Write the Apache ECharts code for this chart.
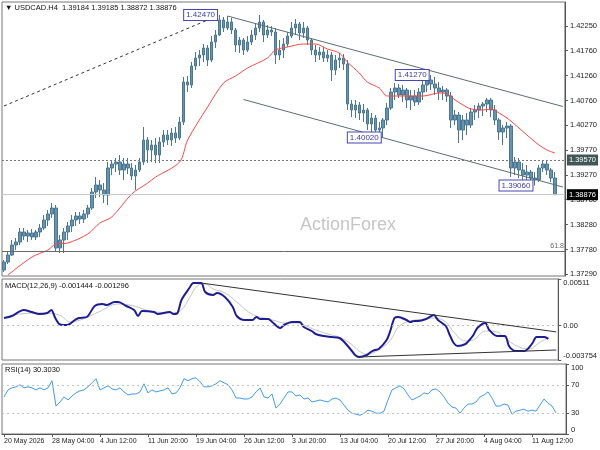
<!DOCTYPE html>
<html>
<head>
<meta charset="utf-8">
<script src="https://cdn.jsdelivr.net/npm/echarts@6/dist/echarts.min.js"></script>
<style>
  html, body { margin: 0; padding: 0; background: #fff; }
  #chart { width: 600px; height: 450px; }
</style>
</head>
<body>
<div id="chart"></div>
<script>
// 每根K线约等于原图2~3根H4
const dateLabels = ['20 May 2026', '28 May 04:00', '4 Jun 12:00', '11 Jun 20:00', '19 Jun 04:00', '26 Jun 12:00',
  '3 Jul 20:00', '13 Jul 04:00', '20 Jul 12:00', '27 Jul 20:00', '4 Aug 04:00', '11 Aug 12:00'];
const LABEL_STEP = 12;
const SLOT_COUNT = 141; // 最后两格留空

// [open, close, low, high]
const ohlc = [
  [1.3737,1.3753,1.3733,1.3757],[1.3753,1.3767,1.3749,1.3773],[1.3767,1.3787,1.3765,1.3797],[1.3787,1.3793,1.3777,1.3801],
  [1.3793,1.3813,1.3787,1.3821],[1.3813,1.3805,1.3797,1.3821],[1.3805,1.3811,1.3793,1.3817],[1.3811,1.3803,1.3797,1.3819],
  [1.3803,1.3813,1.3797,1.3817],[1.3813,1.3821,1.3803,1.3829],[1.3821,1.3837,1.3817,1.3847],[1.3837,1.3849,1.3825,1.3857],
  [1.3849,1.3861,1.3841,1.3871],[1.3861,1.3781,1.3773,1.3867],[1.3781,1.3797,1.3771,1.3807],[1.3797,1.3813,1.3771,1.3821],
  [1.3813,1.3825,1.3797,1.3833],[1.3825,1.3837,1.3813,1.3847],[1.3837,1.3845,1.3825,1.3853],[1.3845,1.3839,1.3829,1.3853],
  [1.3839,1.3849,1.3831,1.3857],[1.3849,1.3861,1.3841,1.3867],[1.3861,1.3893,1.3857,1.3901],[1.3893,1.3907,1.3881,1.3923],
  [1.3907,1.3897,1.3883,1.3917],[1.3897,1.3887,1.3871,1.3911],[1.3887,1.3941,1.3867,1.3953],[1.3941,1.3949,1.3927,1.3957],
  [1.3949,1.3953,1.3933,1.3961],[1.3953,1.3937,1.3927,1.3967],[1.3937,1.3949,1.3917,1.3961],[1.3949,1.3941,1.3929,1.3961],
  [1.3941,1.3925,1.3917,1.3951],[1.3925,1.3937,1.3897,1.3947],[1.3937,1.3953,1.3933,1.3961],[1.3953,1.3997,1.3947,1.4023],
  [1.3997,1.3977,1.3951,1.4003],[1.3977,1.3987,1.3953,1.3997],[1.3987,1.3967,1.3951,1.4001],[1.3967,1.3993,1.3951,1.4003],
  [1.3993,1.4007,1.3983,1.4017],[1.4007,1.3997,1.3987,1.4017],[1.3997,1.4011,1.3985,1.4021],[1.4011,1.4001,1.3991,1.4023],
  [1.4001,1.4033,1.3997,1.4043],[1.4033,1.4113,1.4027,1.4123],[1.4113,1.4107,1.4093,1.4125],[1.4107,1.4145,1.4101,1.4153],
  [1.4145,1.4161,1.4137,1.4173],[1.4161,1.4167,1.4145,1.4177],[1.4167,1.4181,1.4153,1.4189],[1.4181,1.4157,1.4145,1.4187],
  [1.4157,1.4193,1.4153,1.4205],[1.4193,1.4207,1.4181,1.4217],[1.4207,1.4237,1.4205,1.4247],[1.4237,1.4221,1.4213,1.4243],
  [1.4221,1.4233,1.4217,1.4245],[1.4233,1.4217,1.4209,1.4241],[1.4217,1.4187,1.4173,1.4221],[1.4187,1.4197,1.4171,1.4203],
  [1.4197,1.4177,1.4167,1.4201],[1.4177,1.4193,1.4173,1.4205],[1.4193,1.4207,1.4187,1.4217],[1.4207,1.4221,1.4197,1.4229],
  [1.4221,1.4233,1.4213,1.4247],[1.4233,1.4207,1.4193,1.4237],[1.4207,1.4217,1.4201,1.4227],[1.4217,1.4213,1.4205,1.4225],
  [1.4213,1.4167,1.4149,1.4221],[1.4167,1.4177,1.4157,1.4197],[1.4177,1.4189,1.4161,1.4201],[1.4189,1.4205,1.4183,1.4213],
  [1.4205,1.4221,1.4201,1.4233],[1.4221,1.4229,1.4207,1.4239],[1.4229,1.4211,1.4197,1.4233],[1.4211,1.4221,1.4201,1.4233],
  [1.4221,1.4197,1.4187,1.4225],[1.4197,1.4177,1.4167,1.4201],[1.4177,1.4167,1.4153,1.4187],[1.4167,1.4173,1.4157,1.4183],
  [1.4173,1.4161,1.4153,1.4183],[1.4161,1.4167,1.4153,1.4177],[1.4167,1.4137,1.4115,1.4173],[1.4137,1.4157,1.4127,1.4167],
  [1.4157,1.4161,1.4141,1.4171],[1.4161,1.4149,1.4137,1.4169],[1.4149,1.4069,1.4057,1.4157],[1.4069,1.4057,1.4043,1.4077],
  [1.4057,1.4067,1.4041,1.4077],[1.4067,1.4051,1.4037,1.4073],[1.4051,1.4057,1.4033,1.4069],[1.4057,1.4029,1.4017,1.4061],
  [1.4029,1.4041,1.4011,1.4051],[1.4041,1.4017,1.4007,1.4047],[1.4017,1.4021,1.4005,1.4033],[1.4021,1.4037,1.4002,1.4041],
  [1.4037,1.4061,1.4027,1.4071],[1.4061,1.4093,1.4057,1.4101],[1.4093,1.4101,1.4077,1.4111],[1.4101,1.4087,1.4081,1.4109],
  [1.4087,1.4097,1.4073,1.4107],[1.4097,1.4077,1.4061,1.4101],[1.4077,1.4085,1.4057,1.4097],[1.4085,1.4073,1.4065,1.4097],
  [1.4073,1.4093,1.4067,1.4101],[1.4093,1.4107,1.4077,1.4117],[1.4107,1.4117,1.4093,1.4125],[1.4117,1.4109,1.4097,1.4127],
  [1.4109,1.4101,1.4087,1.4123],[1.4101,1.4093,1.4077,1.4113],[1.4093,1.4097,1.4077,1.4105],[1.4097,1.4085,1.4073,1.4101],
  [1.4085,1.4037,1.4021,1.4093],[1.4037,1.4047,1.4027,1.4057],[1.4047,1.4017,1.3991,1.4053],[1.4017,1.4037,1.3997,1.4047],
  [1.4037,1.4027,1.4007,1.4051],[1.4027,1.4053,1.4021,1.4061],[1.4053,1.4057,1.4037,1.4067],[1.4057,1.4065,1.4041,1.4071],
  [1.4065,1.4069,1.4045,1.4073],[1.4069,1.4077,1.4053,1.4081],[1.4077,1.4057,1.4043,1.4081],[1.4057,1.4037,1.4027,1.4067],
  [1.4037,1.4013,1.3997,1.4041],[1.4013,1.4021,1.3987,1.4027],[1.4021,1.4025,1.4001,1.4033],[1.4025,1.3941,1.3923,1.4029],
  [1.3941,1.3953,1.3927,1.3963],[1.3953,1.3937,1.3921,1.3961],[1.3937,1.3927,1.3917,1.3951],[1.3927,1.3933,1.3917,1.3947],
  [1.3933,1.3921,1.3913,1.3937],[1.3921,1.3917,1.3906,1.3933],[1.3917,1.3941,1.3913,1.3947],[1.3941,1.3949,1.3933,1.3957],
  [1.3949,1.3937,1.3927,1.3957],[1.3937,1.3921,1.3913,1.3941],[1.3921,1.38876,1.38872,1.3933]
];

// 红色均线 [bar, value]
const maLine = [
  [1,1.3727],[7,1.3763],[11,1.3777],[13,1.3789],[16,1.3791],[21,1.3809],[24,1.3831],[27,1.3843],[32,1.3889],
  [36,1.3911],[38,1.3923],[44,1.3953],[46,1.3997],[51,1.4063],[55,1.4111],[58,1.4125],[61,1.4141],[66,1.4161],
  [68,1.4177],[71,1.4183],[75,1.4189],[78,1.4189],[81,1.4179],[84,1.4171],[86,1.4153],[89,1.4131],[91,1.4113],
  [94,1.4101],[96,1.4085],[100,1.4085],[105,1.4085],[109,1.4091],[111,1.4089],[113,1.4077],[115,1.4067],
  [117,1.4059],[120,1.4057],[122,1.4059],[124,1.4051],[126,1.4041],[129,1.4021],[131,1.4007],[134,1.3987],
  [136,1.3977],[138,1.3971]
];

const macdLine = [
  [0,0.000842],[2,0.001061],[5,0.001718],[7,0.001499],[9,0.00128],[11,0.001389],[12,0.001718],[13,0.000842],
  [14,0.000186],[15,0.000077],[16,0.000077],[18,0.000624],[19,0.000842],[21,0.000952],[23,0.002155],[25,0.002374],
  [26,0.002265],[28,0.002593],[29,0.002593],[31,0.002155],[33,0.001718],[34,0.001061],[35,0.001608],[38,0.001499],
  [39,0.00128],[42,0.001499],[43,0.00128],[44,0.001389],[45,0.002812],[47,0.004124],[48,0.004671],[50,0.004671],
  [51,0.003687],[53,0.003359],[54,0.003577],[56,0.00314],[58,0.002046],[59,0.001061],[61,0.000624],[63,0.000624],
  [64,0.000952],[65,0.000733],[67,0.000733],[68,0.000405],[70,-0.000252],[71,0.000077],[73,0.000405],[75,0.000405],
  [76,-0.000142],[78,-0.00058],[79,-0.000908],[81,-0.001127],[83,-0.001236],[85,-0.001346],[86,-0.001674],
  [88,-0.002658],[89,-0.003205],[90,-0.003424],[92,-0.003205],[93,-0.002877],[94,-0.002658],[95,-0.002549],
  [97,-0.001564],[98,-0.00047],[99,0.000842],[100,0.000952],[102,0.000624],[103,0.000405],[104,0.000514],
  [105,0.000514],[107,0.000733],[109,0.001171],[110,0.000624],[112,-0.000033],[113,-0.001017],[114,-0.001893],
  [115,-0.002221],[117,-0.002002],[118,-0.001564],[119,-0.001017],[120,-0.000252],[122,0.000295],[123,-0.00047],
  [125,-0.001127],[127,-0.001127],[128,-0.002221],[129,-0.002658],[130,-0.002768],[132,-0.002768],[133,-0.00244],
  [134,-0.001893],[135,-0.001236],[137,-0.001236],[138,-0.001444]
];

const signalLine = [
  [0,0.000842],[4,0.00128],[10,0.001389],[14,0.001171],[17,0.000405],[20,0.000733],[24,0.001499],[29,0.002374],
  [33,0.002155],[37,0.001608],[43,0.001389],[45,0.001718],[47,0.00303],[49,0.004343],[51,0.004562],[53,0.004015],
  [56,0.003577],[59,0.002593],[62,0.001499],[64,0.001061],[66,0.000842],[69,0.000514],[71,0.000295],[74,0.000295],
  [76,0.000077],[79,-0.00047],[83,-0.001017],[85,-0.001236],[88,-0.002002],[90,-0.002768],[92,-0.003096],
  [95,-0.002658],[98,-0.001564],[100,-0.000142],[103,0.000514],[107,0.000733],[109,0.000842],[112,0.000405],
  [114,-0.000689],[117,-0.001674],[119,-0.001564],[122,-0.00058],[125,-0.000689],[127,-0.001346],[130,-0.002221],
  [133,-0.002549],[136,-0.001783],[138,-0.001296]
];

const rsiValues = [
  52.9,63.0,65.9,67.4,70.3,65.9,67.4,65.9,63.0,65.9,63.0,65.9,76.1,39.9,45.7,52.9,48.6,54.3,58.7,61.6,
  63.0,67.4,73.2,79.0,63.0,65.9,68.8,64.5,63.0,65.9,60.1,55.8,57.2,57.2,60.1,71.7,58.7,63.0,60.1,61.6,
  63.0,65.9,57.2,58.7,65.9,79.0,76.1,79.0,80.4,74.6,67.4,67.4,68.8,71.7,76.1,73.2,70.3,63.0,51.4,51.4,
  50.0,50.0,52.9,60.1,65.9,52.9,51.4,57.2,37.0,42.8,51.4,60.1,60.1,54.3,55.8,50.0,51.4,45.7,47.1,48.6,
  47.1,45.7,50.0,51.4,48.6,41.3,34.1,29.7,28.3,26.8,29.7,34.1,32.6,29.7,29.7,32.6,48.6,63.0,65.9,68.8,
  64.5,55.8,48.6,51.4,54.3,58.7,57.2,63.0,64.5,60.1,52.9,44.2,38.4,37.0,29.7,37.0,42.8,42.8,45.7,52.9,
  55.8,60.1,51.4,39.9,39.9,42.8,41.3,28.3,32.6,34.1,35.5,32.6,34.1,32.6,41.3,50.0,44.2,39.9,30.3
];

// 刻度（从小到大）
const priceTicks = [1.3729, 1.3778, 1.3828, 1.3878, 1.3927, 1.3977, 1.4027, 1.4076, 1.4126, 1.4176, 1.4225];
const macdTicks = [-0.003754, 0, 0.00511];
const macdTickLabels = ['-0.003754', '0.00', '0.00511'];
const rsiTicks = [0, 30, 70, 100];
const rsiTopLabel = '100'; // 顶端标签被ECharts隐藏，单独写

// 高低点标注 [bar, price, text]
const swingLabels = [[54, 1.4247, '1.42470'], [107, 1.4127, '1.41270'], [95, 1.4002, '1.40020'], [133, 1.3906, '1.39060']];
const lastBar = ['1.39184', '1.39185', '1.38872', '1.38876'];
const lastPrice = 1.38876;
const levelPrice = 1.3957;
const fibLevel = 1.3775;

const font = "'Liberation Sans', Arial, sans-serif";
const categories = Array.from({ length: SLOT_COUNT }, (_, i) => String(i));
const isLabelSlot = (i) => i % LABEL_STEP === 0;
const nearestLabel = (ticks, labels) => v => {
  let best = 0;
  ticks.forEach((t, k) => { if (Math.abs(t - v) < Math.abs(ticks[best] - v)) best = k; });
  return labels[best];
};

const xAxes = [0, 1, 2].map(g => ({
  type: 'category',
  gridIndex: g,
  data: categories,
  boundaryGap: true,
  axisLine: { show: g === 2, lineStyle: { color: '#555' } },
  axisTick: { show: g === 2, alignWithLabel: true, interval: isLabelSlot, length: 3, lineStyle: { color: '#555' } },
  axisLabel: {
    show: g === 2, interval: isLabelSlot, align: 'left', margin: 4,
    fontSize: 7, color: '#222', fontFamily: font,
    formatter: (v, i) => dateLabels[i / LABEL_STEP] || ''
  },
  splitLine: { show: false }
}));

const yLabel = { fontSize: 7.5, color: '#222', fontFamily: font, margin: 5, showMinLabel: true, showMaxLabel: true, hideOverlap: false };
const yAxes = [
  {
    type: 'value', gridIndex: 0, position: 'right', min: 1.3725, max: 1.4273,
    axisLine: { show: true, lineStyle: { color: '#555' } },
    axisTick: { show: true, length: 3, customValues: priceTicks },
    axisLabel: Object.assign({ customValues: priceTicks, formatter: v => v.toFixed(5) }, yLabel),
    splitLine: { show: false }
  },
  {
    type: 'value', gridIndex: 1, position: 'right', min: -0.003754, max: 0.00511,
    axisLine: { show: true, lineStyle: { color: '#555' } },
    axisTick: { show: true, length: 3, customValues: macdTicks },
    axisLabel: Object.assign({
      customValues: macdTicks,
      verticalAlignMinLabel: 'bottom', verticalAlignMaxLabel: 'top',
      formatter: nearestLabel(macdTicks, macdTickLabels)
    }, yLabel),
    splitLine: { show: false }
  },
  {
    type: 'value', gridIndex: 2, position: 'right', min: 0, max: 100,
    axisLine: { show: true, lineStyle: { color: '#555' } },
    axisTick: { show: true, length: 3, customValues: rsiTicks },
    axisLabel: Object.assign({
      customValues: rsiTicks.slice(0, 3), formatter: v => String(Math.round(v)),
      verticalAlignMinLabel: 'bottom'
    }, yLabel),
    splitLine: { show: false }
  }
];

const channelStyle = { color: '#5b6f6f', width: 1, type: 'solid' };
const rightBox = (text, bg) => ({
  show: true, position: 'end', distance: 2, formatter: text,
  backgroundColor: bg, color: '#fff', fontSize: 7.5, fontFamily: font, padding: [2, 2, 1, 2]
});

const chart = echarts.init(document.getElementById('chart'), null, { renderer: 'canvas' });
chart.setOption({
  animation: false,
  backgroundColor: '#fff',
  grid: [
    { left: 2, top: 2, width: 564, height: 274, show: true, borderColor: '#777', borderWidth: 1 },
    { left: 2, top: 279, width: 564, height: 81, show: true, borderColor: '#777', borderWidth: 1 },
    { left: 2, top: 364, width: 564, height: 70, show: true, borderColor: '#777', borderWidth: 1 }
  ],
  xAxis: xAxes,
  yAxis: yAxes,
  graphic: [
    { type: 'text', left: 5, top: 4, style: { text: '\u25BC USDCAD.H4  ' + lastBar.join(' '), fontSize: 7.5, fill: '#111', fontFamily: font } },
    { type: 'text', left: 5, top: 282, style: { text: 'MACD(12,26,9) -0.001444 -0.001296', fontSize: 7.5, fill: '#111', fontFamily: font } },
    { type: 'text', left: 5, top: 366, style: { text: 'RSI(14) 30.3030', fontSize: 7.5, fill: '#111', fontFamily: font } },
    { type: 'text', left: 571, top: 364, style: { text: rsiTopLabel, fontSize: 7.5, fill: '#222', fontFamily: font } },
    { type: 'text', left: 300, top: 216, style: { text: 'ActionForex', fontSize: 18, fill: '#c6c6c6', fontFamily: font } }
  ],
  series: [
    {
      type: 'candlestick', xAxisIndex: 0, yAxisIndex: 0, data: ohlc, barWidth: 3, clip: false,
      itemStyle: { color: '#6892ad', color0: '#6892ad', borderColor: '#4a7792', borderColor0: '#4a7792', borderWidth: 1 },
      markLine: {
        symbol: ['none', 'none'], silent: true, animation: false, precision: 6,
        label: { show: false },
        data: [
          [{ coord: [0, 1.4065], lineStyle: { color: '#333', width: 1, type: [3, 3] } }, { coord: [54, 1.4247] }],
          [{ coord: [56, 1.4245], lineStyle: channelStyle }, { coord: [140, 1.4064] }],
          [{ coord: [60, 1.4078], lineStyle: channelStyle }, { coord: [140, 1.3903] }],
          { yAxis: levelPrice, lineStyle: { color: '#777', width: 1, type: [2, 2] }, label: rightBox('1.39570', '#415656') },
          { yAxis: lastPrice, lineStyle: { color: '#c8c8c8', width: 1, type: 'solid' }, label: rightBox('1.38876', '#000') },
          {
            yAxis: fibLevel, lineStyle: { color: '#6a6a6a', width: 1, type: 'solid' },
            label: { show: true, position: 'insideEndTop', formatter: '61.8', fontSize: 7, color: '#666', fontFamily: font, distance: 1 }
          }
        ]
      },
      markPoint: {
        symbol: 'rect', symbolSize: 1, silent: true, animation: false,
        itemStyle: { color: 'rgba(0,0,0,0)' },
        label: {
          show: true, position: 'left', distance: 2, formatter: p => p.name,
          backgroundColor: '#fff', borderColor: '#4646b4', borderWidth: 1,
          color: '#3a3aa0', fontSize: 8, fontFamily: font, padding: [1, 2, 0, 2], lineHeight: 9
        },
        data: swingLabels.map(s => ({ coord: [s[0], s[1]], name: s[2] }))
      }
    },
    {
      type: 'line', xAxisIndex: 0, yAxisIndex: 0, data: maLine, symbol: 'none', smooth: 0.3,
      lineStyle: { color: '#ff4646', width: 1 }
    },
    {
      type: 'line', xAxisIndex: 1, yAxisIndex: 1, data: signalLine, symbol: 'none', smooth: 0.4,
      lineStyle: { color: '#c4c4c4', width: 1 },
      markLine: {
        symbol: ['none', 'none'], silent: true, animation: false, precision: 8, label: { show: false },
        data: [
          { yAxis: 0, lineStyle: { color: '#bdbdbd', width: 1, type: [2, 3] } },
          [{ coord: [50, 0.004671], lineStyle: { color: '#333', width: 1, type: 'solid' } }, { coord: [140, -0.00068] }],
          [{ coord: [90, -0.003424], lineStyle: { color: '#333', width: 1, type: 'solid' } }, { coord: [140, -0.002658] }]
        ]
      }
    },
    {
      type: 'line', xAxisIndex: 1, yAxisIndex: 1, data: macdLine, symbol: 'none', smooth: 0.3,
      lineStyle: { color: '#1d1d94', width: 2 }
    },
    {
      type: 'line', xAxisIndex: 2, yAxisIndex: 2, data: rsiValues, symbol: 'none',
      lineStyle: { color: '#3f9cf2', width: 1 },
      markLine: {
        symbol: ['none', 'none'], silent: true, animation: false, label: { show: false },
        data: [
          { yAxis: 70, lineStyle: { color: '#c4c4c4', width: 1, type: [2, 3] } },
          { yAxis: 30, lineStyle: { color: '#c4c4c4', width: 1, type: [2, 3] } }
        ]
      }
    }
  ]
});
</script>
</body>
</html>
